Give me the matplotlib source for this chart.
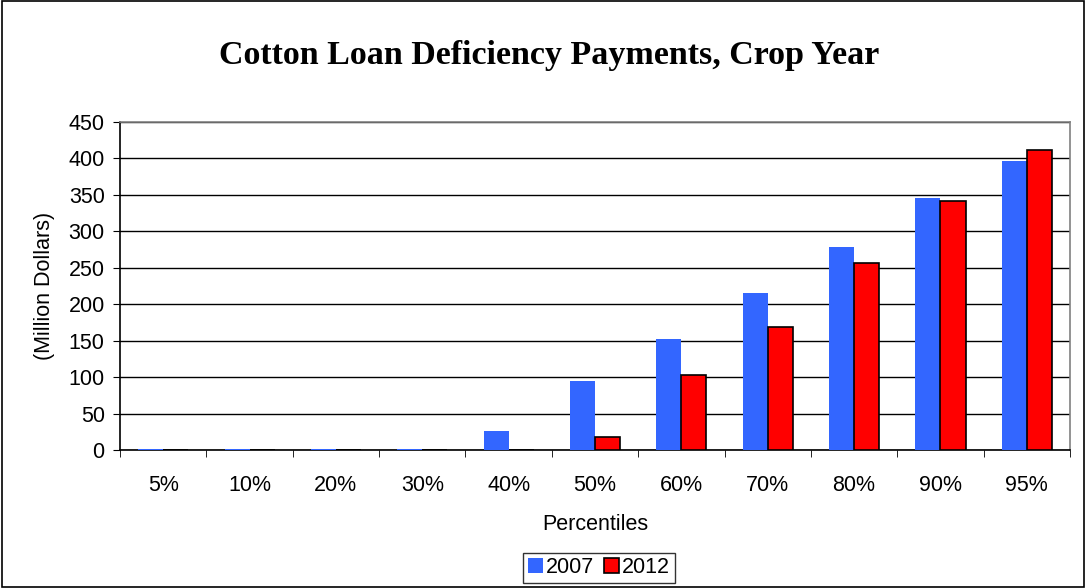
import matplotlib
matplotlib.use("Agg")
import matplotlib.pyplot as plt
import numpy as np
from matplotlib.patches import Rectangle

categories = ["5%", "10%", "20%", "30%", "40%", "50%", "60%", "70%", "80%", "90%", "95%"]
vals_2007 = [2, 2, 2, 2, 26, 94, 152, 216, 278, 346, 396]
vals_2012 = [0.5, 0.5, 0.5, 0.5, 0.5, 18, 103, 169, 256, 342, 411]
yticks = [0, 50, 100, 150, 200, 250, 300, 350, 400, 450]

plt.rcParams['font.family'] = ['Liberation Sans', 'DejaVu Sans']
FS = 15.5

fig = plt.figure(figsize=(10.86, 5.88), dpi=100)
fig.patches.append(Rectangle((0.002, 0.002), 0.996, 0.996, transform=fig.transFigure,
                             fill=False, edgecolor='black', linewidth=1.2))
ax = fig.add_axes([0.1105, 0.2347, 0.8748, 0.5578])

x = np.arange(len(categories))
w = 0.29
ax.bar(x - w/2, vals_2007, w, color='#3366FF', label='2007', zorder=3)
ax.bar(x + w/2, vals_2012, w, color='#FF0000', edgecolor='black', linewidth=1.2,
       label='2012', zorder=3)

ax.set_xlim(-0.5, len(categories) - 0.5)
ax.set_ylim(0, 450)
ax.set_yticks(yticks)
ax.yaxis.grid(True, color='black', linewidth=1, zorder=0)
ax.set_xticks(x)
ax.set_xticklabels(categories, fontsize=FS)
ax.tick_params(axis='x', which='major', length=0, pad=18)
ax.set_xticks(np.arange(-0.5, len(categories)), minor=True)
ax.tick_params(axis='x', which='minor', length=5, direction='out', color='black')
ax.tick_params(axis='y', labelsize=FS, length=5, direction='out', color='black', pad=6)

for s in ['top', 'right']:
    ax.spines[s].set_color('#808080')
for s in ['left', 'bottom']:
    ax.spines[s].set_color('black')
for s in ax.spines.values():
    s.set_linewidth(1.2)

ax.set_xlabel('Percentiles', fontsize=FS, labelpad=13)
ax.set_ylabel('(Million Dollars)', fontsize=FS, labelpad=10)

fig.text(0.506, 0.905, 'Cotton Loan Deficiency Payments, Crop Year', ha='center', va='center',
         fontsize=24.5, fontweight='bold', family='Liberation Serif')

leg = fig.legend(loc='center', bbox_to_anchor=(0.5515, 0.0345), ncol=2, fontsize=FS,
                 frameon=True, fancybox=False, edgecolor='black', handlelength=0.7,
                 handleheight=0.7, handletextpad=0.15, columnspacing=0.45, borderpad=0.2,
                 borderaxespad=0)
leg.get_frame().set_linewidth(1.0)

fig.savefig('out.png', dpi=100)
